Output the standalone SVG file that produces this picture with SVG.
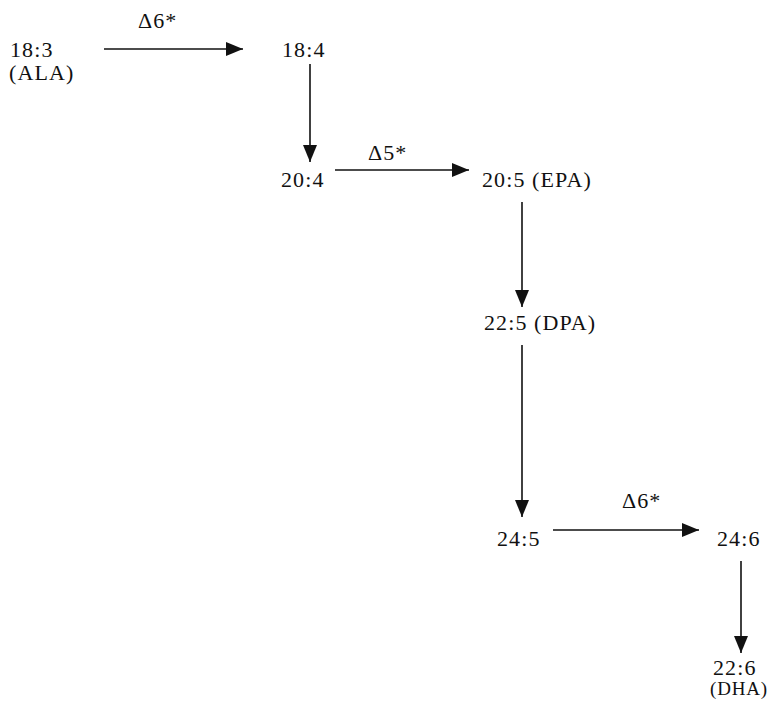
<svg xmlns="http://www.w3.org/2000/svg" width="767" height="701" viewBox="0 0 767 701">
<defs>
<marker id="ah" markerUnits="userSpaceOnUse" markerWidth="18" markerHeight="16" refX="17" refY="7" orient="auto">
<path d="M0,0 L17,7 L0,14 Z" fill="#111"/>
</marker>
<style>
.t{font-family:'Liberation Serif','DejaVu Serif',serif;font-size:22px;fill:#111;letter-spacing:1.1px}
.sm{font-size:19px;letter-spacing:0.8px}
.c{stroke:#111;stroke-width:1.6;fill:none}
</style>
</defs>
<rect width="767" height="701" fill="#fff"/>
<g id="connectors">
<line class="c" x1="104" y1="49" x2="243" y2="49" marker-end="url(#ah)"/>
<line class="c" x1="310" y1="64" x2="310" y2="162" marker-end="url(#ah)"/>
<line class="c" x1="335" y1="170" x2="469" y2="170" marker-end="url(#ah)"/>
<line class="c" x1="522" y1="202" x2="522" y2="307" marker-end="url(#ah)"/>
<line class="c" x1="522" y1="345" x2="522" y2="517" marker-end="url(#ah)"/>
<line class="c" x1="553" y1="530" x2="699" y2="530" marker-end="url(#ah)"/>
<line class="c" x1="741" y1="561" x2="741" y2="653" marker-end="url(#ah)"/>
</g>
<g id="labels" class="t" font-family="Liberation Serif, DejaVu Serif, serif">
<text x="138" y="28">Δ6*</text>
<text x="368" y="160">Δ5*</text>
<text x="622" y="508">Δ6*</text>
</g>
<g id="nodes" class="t" font-family="Liberation Serif, DejaVu Serif, serif">
<g id="n183"><text x="10" y="57">18:3</text><text x="9" y="80">(ALA)</text></g>
<g id="n184"><text x="282" y="57">18:4</text></g>
<g id="n204"><text x="281" y="187">20:4</text></g>
<g id="n205"><text x="482" y="187">20:5 (EPA)</text></g>
<g id="n225"><text x="484" y="330">22:5 (DPA)</text></g>
<g id="n245"><text x="497" y="546">24:5</text></g>
<g id="n246"><text x="717" y="546">24:6</text></g>
<g id="n226"><text x="713" y="675">22:6</text><text class="sm" x="710" y="695">(DHA)</text></g>
</g>
</svg>
